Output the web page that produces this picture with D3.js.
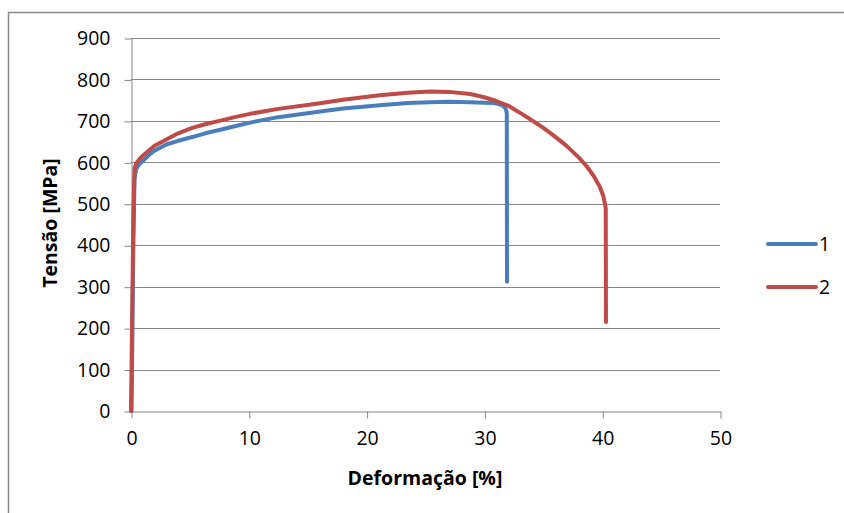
<!DOCTYPE html>
<html>
<head>
<meta charset="utf-8">
<script src="https://cdn.jsdelivr.net/npm/d3@7"></script>
<style>
  body { margin: 0; background: #fff; }
  svg { display: block; font-family: "Open Sans", sans-serif; }
</style>
</head>
<body>
<svg id="chart" width="844" height="513"></svg>
<script>
// curve 1 (blue) - strain [%], stress [MPa]
var strain1 = [0.05, 0.2, 0.3, 0.45, 0.7, 1.0, 1.5, 2.0, 3.0, 4.0, 5.2, 6.3, 7.5, 8.8, 10.3, 12.5, 15.6, 18.0, 21.1, 23.5, 25.4, 27.0, 28.8, 30.0, 30.8, 31.3, 31.6, 31.8, 31.9, 31.92];
var stress1 = [0, 400, 560, 585, 595, 603, 617, 628, 643, 652, 661, 670, 678, 687, 697, 709, 721, 730, 738, 743, 745, 746, 745, 744, 743, 740, 736, 730, 720, 312];

// curve 2 (red)
var strain2 = [0, 0.2, 0.3, 0.45, 0.7, 1.0, 1.5, 2.0, 3.0, 4.0, 5.2, 6.3, 7.5, 8.8, 10.1, 12.5, 15.6, 18.0, 21.1, 23.5, 25.4, 27.0, 28.8, 30.0, 31.0, 32.0, 33.0, 34.0, 35.0, 36.0, 37.0, 38.0, 38.7, 39.3, 39.8, 40.1, 40.3, 40.32];
var stress2 = [0, 470, 585, 598, 607, 616, 628, 640, 655, 670, 683, 692, 700, 709, 717, 729, 741, 751, 762, 768, 771, 770, 765, 757, 748, 737, 720, 702, 683, 662, 639, 612, 590, 566, 541, 518, 490, 215];

var xTicks = [0, 10, 20, 30, 40, 50];
var yTicks = [0, 100, 200, 300, 400, 500, 600, 700, 800, 900];
var seriesNames = ["1", "2"];
var seriesColors = ["#4a7ebb", "#be4b48"];

var svg = d3.select("#chart");
var gridColor = "#868686";

// outer chart frame (only left and top visible)
svg.append("path")
  .attr("d", "M8.5,520V12.5H850")
  .attr("fill", "none")
  .attr("stroke", "#8a8a8a")
  .attr("stroke-width", 1.5);

var x = d3.scaleLinear().domain([0, 50]).range([131, 720]);
var y = d3.scaleLinear().domain([0, 900]).range([411, 38]);

// horizontal grid
svg.append("g").selectAll("line")
  .data(yTicks.filter(function(d) { return d > 0; }))
  .join("line")
  .attr("x1", x(0)).attr("x2", x(50))
  .attr("y1", function(d) { return Math.round(y(d)) + 0.5; })
  .attr("y2", function(d) { return Math.round(y(d)) + 0.5; })
  .attr("stroke", gridColor);

// y axis
var yAxis = svg.append("g")
  .attr("transform", "translate(" + (x(0) + 0.5) + ",0.5)")
  .call(d3.axisLeft(y).tickValues(yTicks).tickSize(7).tickPadding(14).tickSizeOuter(0));
yAxis.select(".domain").attr("stroke", gridColor);
yAxis.selectAll(".tick line").attr("stroke", gridColor);
yAxis.selectAll(".tick text").attr("font-size", 19.5).attr("fill", "#000")
  .attr("font-family", "Open Sans");

// x axis
var xAxis = svg.append("g")
  .attr("transform", "translate(0.5," + (y(0) + 0.5) + ")")
  .call(d3.axisBottom(x).tickValues(xTicks).tickSize(7).tickPadding(13).tickSizeOuter(0));
xAxis.select(".domain").attr("stroke", gridColor);
xAxis.selectAll(".tick line").attr("stroke", gridColor);
xAxis.selectAll(".tick text").attr("font-size", 19.5).attr("fill", "#000")
  .attr("font-family", "Open Sans");

// axis titles
svg.append("text")
  .attr("x", 425).attr("y", 485)
  .attr("text-anchor", "middle")
  .attr("font-size", 19.5).attr("font-weight", "bold")
  .text("Deformação [%]");

svg.append("text")
  .attr("transform", "translate(57,223) rotate(-90)")
  .attr("text-anchor", "middle")
  .attr("font-size", 19.5).attr("font-weight", "bold")
  .text("Tensão [MPa]");

// curves
var line = d3.line()
  .x(function(d) { return x(d[0]); })
  .y(function(d) { return y(d[1]); });

var series = [d3.zip(strain1, stress1), d3.zip(strain2, stress2)];

series.forEach(function(pts, i) {
  svg.append("path")
    .datum(pts)
    .attr("d", line)
    .attr("fill", "none")
    .attr("stroke", seriesColors[i])
    .attr("stroke-width", 4)
    .attr("stroke-linejoin", "round")
    .attr("stroke-linecap", "round");
});

// legend
var legend = svg.append("g");
seriesNames.forEach(function(name, i) {
  var ly = 244 + i * 43;
  legend.append("line")
    .attr("x1", 768).attr("x2", 816)
    .attr("y1", ly).attr("y2", ly)
    .attr("stroke", seriesColors[i])
    .attr("stroke-width", 4)
    .attr("stroke-linecap", "round");
  legend.append("text")
    .attr("x", 819).attr("y", ly + 7)
    .attr("font-size", 19.5)
    .text(name);
});
</script>
</body>
</html>
